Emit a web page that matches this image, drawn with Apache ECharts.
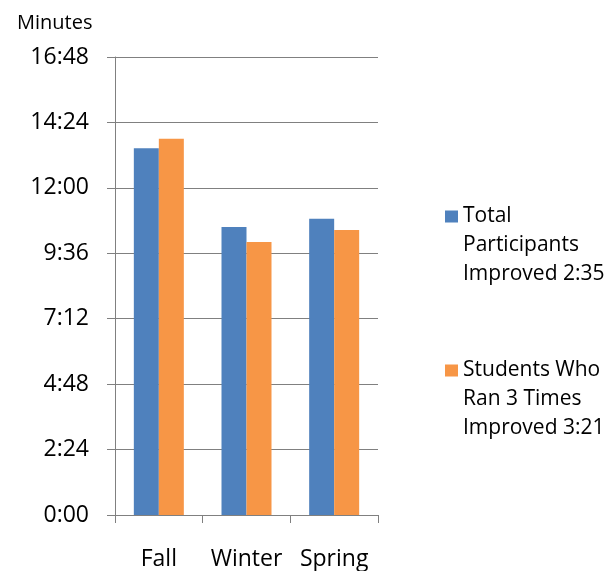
<!DOCTYPE html>
<html>
<head>
<meta charset="utf-8">
<script src="https://cdn.jsdelivr.net/npm/echarts@6/dist/echarts.min.js"></script>
<style>
html,body{margin:0;padding:0;background:#fff;}
#chart{width:614px;height:571px;}
</style>
</head>
<body>
<div id="chart"></div>
<script>
// Data (values in seconds)
const categories = ['Fall', 'Winter', 'Spring'];
const seriesNames = ['Total\nParticipants\nImproved 2:35', 'Students Who\nRan 3 Times\nImproved 3:21'];
const totalParticipants = [807, 634, 652];   // 13:27, 10:34, 10:52
const studentsRan3 = [828, 601, 627];        // 13:48, 10:01, 10:27
const yMin = 0, yMax = 1008, yInterval = 144; // 0:00 .. 16:48 step 2:24

function fmt(s) {
  const m = Math.floor(s / 60), sec = Math.round(s % 60);
  return m + ':' + (sec < 10 ? '0' : '') + sec;
}

const FONT = 'Open Sans';
const LINE = '#808080';
// legend marker: square aligned with the first text line, box spans three lines
const ICON = 'path://M0,0L0.01,0L0.01,0.01Z M0,8.5L13,8.5L13,20.5L0,20.5Z M12.99,86.99L13,86.99L13,87Z';

const chart = echarts.init(document.getElementById('chart'), null, {renderer: 'canvas'});
chart.setOption({
  animation: false,
  backgroundColor: '#fff',
  title: {
    text: 'Minutes', left: 12, top: 8,
    textStyle: {fontFamily: FONT, fontSize: 20, fontWeight: 'normal', color: '#000'}
  },
  grid: {left: 115, right: 236, top: 57, bottom: 54, containLabel: false},
  legend: {
    orient: 'vertical', left: 440, top: 197,
    itemWidth: 13, itemHeight: 87, itemGap: 67,
    icon: ICON,
    textStyle: {fontFamily: FONT, fontSize: 21, color: '#000', lineHeight: 29},
    data: seriesNames
  },
  xAxis: {
    type: 'category', data: categories,
    axisLine: {lineStyle: {color: LINE, width: 1}},
    axisTick: {show: true, length: 8, lineStyle: {color: LINE, width: 1}},
    axisLabel: {fontFamily: FONT, fontSize: 23, color: '#000', margin: 33, interval: 0}
  },
  yAxis: {
    type: 'value', min: yMin, max: yMax, interval: yInterval,
    axisLine: {show: true, lineStyle: {color: LINE, width: 1}},
    axisTick: {show: true, length: 8, lineStyle: {color: LINE, width: 1}},
    splitLine: {show: true, lineStyle: {color: LINE, width: 1}},
    axisLabel: {fontFamily: FONT, fontSize: 23, color: '#000', margin: 26, formatter: fmt}
  },
  series: [
    {name: seriesNames[0], type: 'bar', data: totalParticipants, barWidth: 25, barGap: '0%', itemStyle: {color: '#4F81BD'}},
    {name: seriesNames[1], type: 'bar', data: studentsRan3, barWidth: 25, barGap: '0%', itemStyle: {color: '#F79646'}}
  ]
});
</script>
</body>
</html>
